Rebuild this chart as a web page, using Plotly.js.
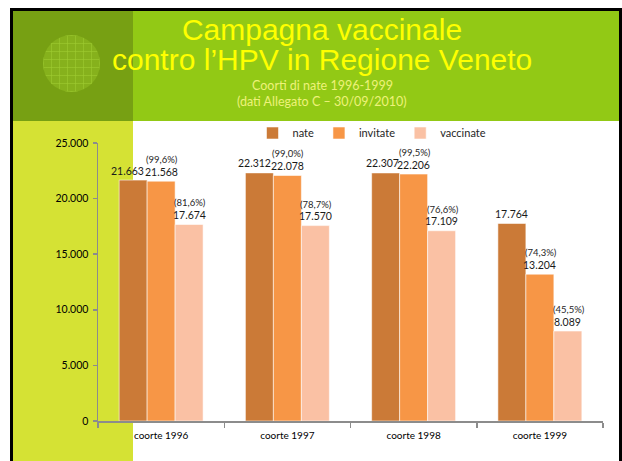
<!DOCTYPE html>
<html>
<head>
<meta charset="utf-8">
<script src="https://cdn.plot.ly/plotly-3.0.1.min.js"></script>
<style>
  html, body { margin: 0; padding: 0; background: #ffffff; }
  #stage { position: relative; width: 622px; height: 461px; overflow: hidden; background: #ffffff; }
  .blk { position: absolute; }
  #chart { position: absolute; left: 0; top: 0; width: 622px; height: 461px; }
</style>
</head>
<body>
<div id="stage">
  <div class="blk" style="left:10px;top:8px;width:612px;height:453px;background:#000000;"></div>
  <div class="blk" style="left:13px;top:11px;width:120px;height:110px;background:#77A013;"></div>
  <div class="blk" style="left:133px;top:11px;width:486px;height:110px;background:#92C915;"></div>
  <div class="blk" style="left:13px;top:121px;width:120px;height:340px;background:#D5E234;"></div>
  <div class="blk" style="left:133px;top:121px;width:486px;height:340px;background:#ffffff;"></div>
  <div class="blk" style="left:43px;top:35px;width:57px;height:57px;border-radius:50%;
       background-color:#86B11C;
       background-image:
         repeating-linear-gradient(90deg, rgba(160,205,50,0.55) 0px, rgba(160,205,50,0.55) 1px, transparent 1px, transparent 8px),
         repeating-linear-gradient(0deg, rgba(160,205,50,0.55) 0px, rgba(160,205,50,0.55) 1px, transparent 1px, transparent 8px);"></div>
  <div id="chart"></div>
</div>
<script>
// ---- data ----
var categories = ['coorte 1996', 'coorte 1997', 'coorte 1998', 'coorte 1999'];
var seriesNames = ['nate', 'invitate', 'vaccinate'];
var nate = [21663, 22312, 22307, 17764];
var invitate = [21568, 22078, 22206, 13204];
var vaccinate = [17674, 17570, 17109, 8089];
var pctInvitate = ['(99,6%)', '(99,0%)', '(99,5%)', '(74,3%)'];
var pctVaccinate = ['(81,6%)', '(78,7%)', '(76,6%)', '(45,5%)'];
var yTicks = [0, 5000, 10000, 15000, 20000, 25000];
var yTickLabels = ['0', '5.000', '10.000', '15.000', '20.000', '25.000'];

// ---- styling ----
var colors = ['#CB7A37', '#F79646', '#FAC1A4'];
var W = 622, H = 461;
var M = {l: 98, r: 19, t: 143, b: 40};
var plotW = W - M.l - M.r, plotH = H - M.t - M.b;
var barStep = plotW / categories.length * (1 - 0.335) / 3;
var nateShift = [-6, -5, -3, 0];

function fmt(v) {
  return String(v).replace(/\B(?=(\d{3})+(?!\d))/g, '.');
}

var values = [nate, invitate, vaccinate];
var pcts = [null, pctInvitate, pctVaccinate];

var traces = seriesNames.map(function (name, j) {
  return {
    type: 'bar',
    name: name,
    x: categories,
    y: values[j],
    marker: {color: colors[j], line: {color: 'rgba(255,255,255,0.55)', width: 1}},
    hoverinfo: 'x+y'
  };
});

var annotations = [];
var labelFont = {family: 'Lato, "Open Sans", sans-serif', size: 10.5, color: '#1a1a1a'};
var pctFont = {family: 'Lato, "Open Sans", sans-serif', size: 9.5, color: '#262626'};
for (var j = 0; j < 3; j++) {
  for (var i = 0; i < categories.length; i++) {
    var xs = (j - 1) * barStep + (j === 0 ? nateShift[i] : 0);
    annotations.push({
      x: categories[i], y: values[j][i], xref: 'x', yref: 'y',
      text: fmt(values[j][i]), showarrow: false,
      xshift: xs, yshift: 9.5, yanchor: 'middle', xanchor: 'center',
      font: labelFont
    });
    if (pcts[j]) {
      annotations.push({
        x: categories[i], y: values[j][i], xref: 'x', yref: 'y',
        text: pcts[j][i], showarrow: false,
        xshift: xs + 1, yshift: 21.5, yanchor: 'middle', xanchor: 'center',
        font: pctFont
      });
    }
  }
}

function px(xp) { return (xp - M.l) / plotW; }
function py(yp) { return (H - M.b - yp) / plotH; }

var titleColor = '#FFFF00';
annotations.push({
  xref: 'paper', yref: 'paper', x: px(322), y: py(59), xanchor: 'center', yanchor: 'middle',
  text: 'contro l\u2019HPV in Regione Veneto', showarrow: false,
  font: {family: '"Liberation Sans", Arial, sans-serif', size: 30, color: titleColor}
});
annotations.push({
  xref: 'paper', yref: 'paper', x: px(322), y: py(85.5), xanchor: 'center', yanchor: 'middle',
  text: 'Coorti di nate 1996-1999', showarrow: false,
  font: {family: 'Lato, "Open Sans", sans-serif', size: 12.5, color: '#EEF27A'}
});
annotations.push({
  xref: 'paper', yref: 'paper', x: px(322), y: py(101), xanchor: 'center', yanchor: 'middle',
  text: '(dati Allegato C \u2013 30/09/2010)', showarrow: false,
  font: {family: 'Lato, "Open Sans", sans-serif', size: 12.5, color: '#EEF27A'}
});

var axisColor = '#8C8C8C';
var layout = {
  width: W, height: H,
  margin: M,
  paper_bgcolor: 'rgba(0,0,0,0)',
  plot_bgcolor: 'rgba(0,0,0,0)',
  separators: ',.',
  barmode: 'group',
  bargap: 0.335,
  bargroupgap: 0,
  title: {
    text: 'Campagna vaccinale',
    xref: 'container', yref: 'container',
    x: 322 / W, y: 1 - 29 / H, xanchor: 'center', yanchor: 'middle',
    font: {family: '"Liberation Sans", Arial, sans-serif', size: 30, color: titleColor}
  },
  showlegend: true,
  legend: {
    orientation: 'h', x: px(372), xanchor: 'center', y: 1 + 10 / plotH, yanchor: 'middle',
    bgcolor: 'rgba(0,0,0,0)', font: {family: 'Lato, "Open Sans", sans-serif', size: 11, color: '#262626'},
    itemwidth: 30, tracegroupgap: 0
  },
  xaxis: {
    type: 'category',
    showline: true, linecolor: axisColor, linewidth: 1.5,
    ticks: 'outside', tickson: 'boundaries', ticklen: 5, tickcolor: axisColor, tickwidth: 1.5,
    tickfont: {family: 'Lato, "Open Sans", sans-serif', size: 10, color: '#000000'},
    ticklabelstandoff: 4,
    showgrid: false, zeroline: false, fixedrange: true
  },
  yaxis: {
    range: [0, 25000],
    tickvals: yTicks, ticktext: yTickLabels,
    showline: true, linecolor: axisColor, linewidth: 1.5,
    ticks: 'outside', ticklen: 4, tickcolor: axisColor, tickwidth: 1.5,
    tickfont: {family: 'Lato, "Open Sans", sans-serif', size: 10.5, color: '#000000'},
    ticklabelstandoff: 2,
    showgrid: false, zeroline: false, fixedrange: true
  },
  annotations: annotations
};

Plotly.newPlot('chart', traces, layout, {displayModeBar: false, staticPlot: true});
</script>
</body>
</html>
